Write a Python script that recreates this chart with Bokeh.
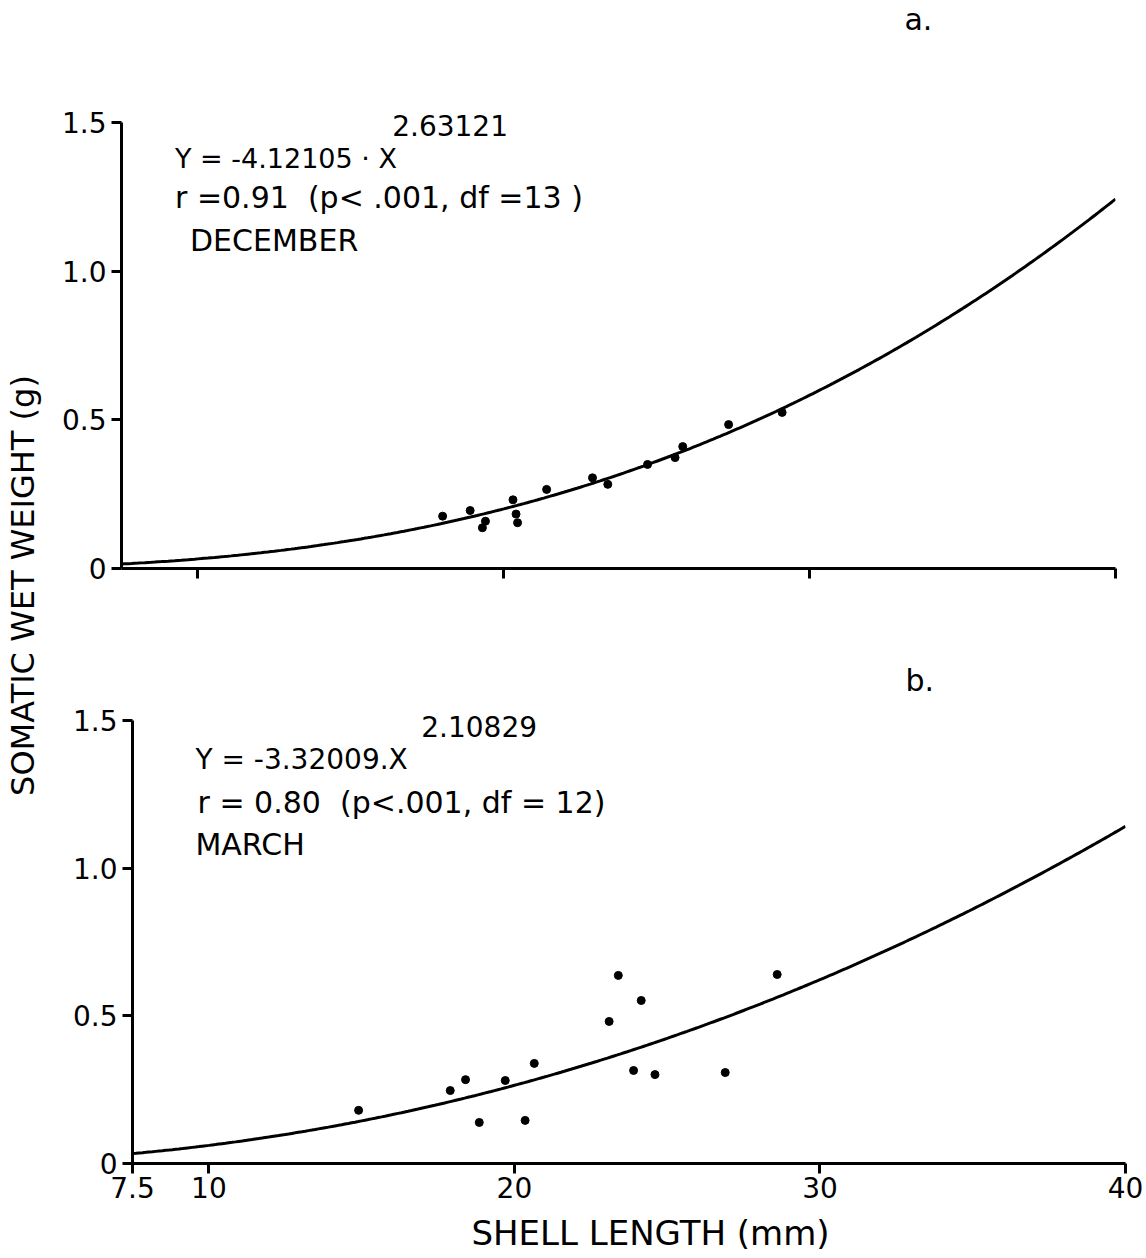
import numpy as np
from bokeh.plotting import figure
from bokeh.layouts import row, column
from bokeh.models import Range1d, FixedTicker, Label
from bokeh.embed import file_html
from bokeh.resources import INLINE

# ---- data ----
# a. December
dec_length = [18.0, 18.9, 19.4, 19.3, 20.3, 20.4, 20.45, 21.4, 22.9, 23.4, 24.7, 25.6, 25.85, 27.35, 29.1]
dec_weight = [0.176, 0.195, 0.159, 0.137, 0.231, 0.183, 0.154, 0.266, 0.305, 0.283, 0.350, 0.373, 0.410, 0.484, 0.525]
dec_fit = [-4.12105, 2.63121]   # log10(Y) = a + b*log10(X)

# b. March
mar_length = [14.9, 17.9, 18.4, 18.85, 19.7, 20.35, 20.65, 23.1, 23.4, 24.15, 23.9, 24.6, 26.9, 28.6]
mar_weight = [0.18, 0.247, 0.284, 0.139, 0.281, 0.146, 0.339, 0.481, 0.637, 0.552, 0.315, 0.301, 0.308, 0.64]
mar_fit = [-3.32009, 2.10829]

x_ticks = [7.5, 10, 20, 30, 40]
y_ticks = [0, 0.5, 1.0, 1.5]
y_tick_labels = {0: "0", 0.5: "0.5", 1: "1.0", 1.5: "1.5"}

FONT = "DejaVu Sans"
W = 1146
LEFT = 45
NB = "\u00a0"


def no_align(p):
    try:
        p.frame_align = False
    except Exception:
        pass


def panel(width, height, mb_left, mb_right, mb_bottom, y_top, show_xlabels):
    p = figure(width=width, height=height, output_backend="svg", toolbar_location=None,
               title=None,
               x_range=Range1d(7.5, 40), y_range=Range1d(0, y_top),
               min_border_left=mb_left, min_border_right=mb_right,
               min_border_top=0, min_border_bottom=mb_bottom)
    no_align(p)
    p.outline_line_color = None
    p.xgrid.visible = False
    p.ygrid.visible = False
    p.background_fill_color = "white"
    p.border_fill_color = "white"
    for ax in (p.xaxis[0], p.yaxis[0]):
        ax.axis_line_width = 3
        ax.axis_line_color = "black"
        ax.major_tick_line_width = 3
        ax.major_tick_line_color = "black"
        ax.major_tick_out = 10
        ax.major_tick_in = 0
        ax.minor_tick_line_color = None
        ax.major_label_text_font = FONT
        ax.major_label_text_font_size = "28px"
        ax.major_label_text_color = "black"
    p.yaxis[0].bounds = (0, 1.5)
    p.xaxis[0].bounds = (7.5, 40)
    p.yaxis[0].ticker = FixedTicker(ticks=y_ticks)
    p.yaxis[0].major_label_overrides = y_tick_labels
    p.yaxis[0].major_label_standoff = 5
    if show_xlabels:
        p.xaxis[0].ticker = FixedTicker(ticks=x_ticks)
        p.xaxis[0].major_label_standoff = 3
    else:
        p.xaxis[0].ticker = FixedTicker(ticks=x_ticks[1:])
        p.xaxis[0].major_label_text_color = None
    return p


def add_fit(p, fit, lengths, weights):
    xs = np.linspace(7.5, 40, 300)
    ys = 10 ** (fit[0] + fit[1] * np.log10(xs))
    p.line(xs, ys, line_color="black", line_width=3)
    p.scatter(lengths, weights, size=8, color="black")


def txt(p, x, y, s, size="30px", align="left"):
    p.add_layout(Label(x=x, y=y, text=s, text_font=FONT, text_font_size=size,
                       text_color="black", text_align=align, text_baseline="middle"))


def blank(width, height):
    b = figure(width=width, height=height, output_backend="svg", toolbar_location=None,
               title=None, x_range=Range1d(0, 1), y_range=Range1d(0, 1),
               min_border=0, min_border_left=0, min_border_right=0,
               min_border_top=0, min_border_bottom=0)
    no_align(b)
    b.axis.visible = False
    b.grid.visible = False
    b.outline_line_color = None
    b.border_fill_color = "white"
    return b


# ---- top panel (a): frame from page y 0 to 568, y=1.5 at page y 122 ----
top = panel(W - LEFT, 640, 76, 31, 72, 1.5 + 122 / 297.3, False)
add_fit(top, dec_fit, dec_length, dec_weight)
txt(top, 33.1, 1.846, "a.")
txt(top, 9.25, 1.379, "Y = -4.12105 · X", size="27px")
txt(top, 16.35, 1.490, "2.63121", size="28px")
txt(top, 9.25, 1.248, "r =0.91 " + NB + "(p< .001, df =13 )")
txt(top, 9.74, 1.103, "DECEMBER")

# ---- bottom panel (b): frame from page y 640 to 1163, y=1.5 at page y 720 ----
bot = panel(W - LEFT, 568, 87, 21, 45, 1.5 + 80 / 295.3, True)
add_fit(bot, mar_fit, mar_length, mar_weight)
txt(bot, 32.8, 1.636, "b.")
txt(bot, 16.95, 1.480, "2.10829", size="28px")
txt(bot, 9.56, 1.368, "Y = -3.32009.X", size="28px")
txt(bot, 9.63, 1.222, "r = 0.80 " + NB + "(p<.001, df = 12)")
txt(bot, 9.56, 1.080, "MARCH")

# ---- x-axis title strip ----
xt = blank(W - LEFT, 50)
xt.add_layout(Label(x=(650 - LEFT) / (W - LEFT), y=0.52, text="SHELL LENGTH (mm)",
                    text_font=FONT, text_font_size="34px", text_color="black",
                    text_align="center", text_baseline="middle"))

# ---- shared y-axis title ----
lab = blank(LEFT, 1258)
lab.add_layout(Label(x=0.5, y=1 - 585 / 1258, text="SOMATIC WET WEIGHT (g)", angle=np.pi / 2,
                     text_font=FONT, text_font_size="32px", text_color="black",
                     text_align="center", text_baseline="middle"))

layout = row(lab, column(top, bot, xt, spacing=0), spacing=0)

with open("out.html", "w") as f:
    f.write(file_html(layout, INLINE))
